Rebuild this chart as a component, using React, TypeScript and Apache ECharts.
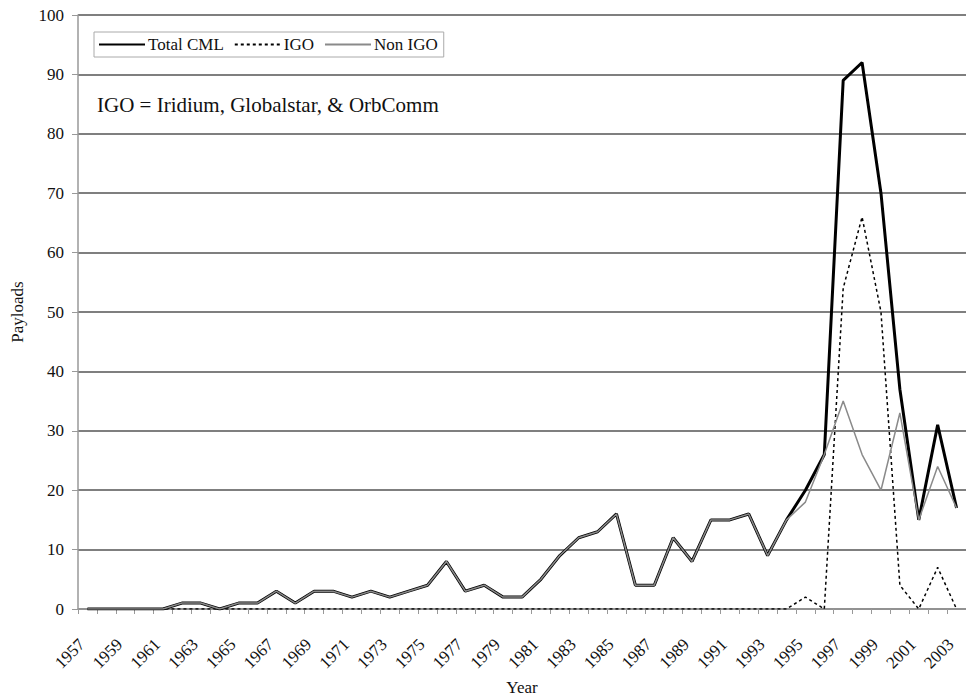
import React, { useEffect, useRef } from "react";
import * as echarts from "echarts";

const years: string[] = [];
for (let y = 1957; y <= 2003; y++) years.push(String(y));

const totalCML = [0,0,0,0,0,1,1,0,1,1,3,1,3,3,2,3,2,3,4,8,3,4,2,2,5,9,12,13,16,4,4,12,8,15,15,16,9,15,20,26,89,92,70,37,15,31,17];
const igo = [0,0,0,0,0,0,0,0,0,0,0,0,0,0,0,0,0,0,0,0,0,0,0,0,0,0,0,0,0,0,0,0,0,0,0,0,0,0,2,0,54,66,50,4,0,7,0];
const nonIGO = [0,0,0,0,0,1,1,0,1,1,3,1,3,3,2,3,2,3,4,8,3,4,2,2,5,9,12,13,16,4,4,12,8,15,15,16,9,15,18,26,35,26,20,33,15,24,17];

const FONT = "Liberation Serif";

export default function App() {
  const ref = useRef<HTMLDivElement>(null);
  useEffect(() => {
    if (!ref.current) return;
    const chart = echarts.init(ref.current, null, { renderer: "svg" });
    chart.setOption({
      animation: false,
      backgroundColor: "#fff",
      textStyle: { fontFamily: FONT },
      grid: {
        left: 78,
        right: 0,
        top: 15,
        bottom: 91,
        containLabel: false,
        outerBoundsMode: "none",
      },
      legend: {
        left: 94,
        top: 32,
        padding: [4, 6, 4, 4],
        itemGap: 10,
        itemWidth: 46,
        itemHeight: 14,
        borderColor: "#aaa",
        borderWidth: 1,
        backgroundColor: "#fff",
        itemStyle: { opacity: 0 },
        textStyle: { fontFamily: FONT, fontSize: 17, color: "#111", padding: [0, 0, 0, -2] },
        data: ["Total CML", "IGO", "Non IGO"],
      },
      xAxis: {
        type: "category",
        data: years,
        boundaryGap: true,
        name: "Year",
        nameLocation: "middle",
        nameGap: 68,
        nameTextStyle: { fontFamily: FONT, fontSize: 17, color: "#111" },
        axisLine: { lineStyle: { color: "#999", width: 1.5 } },
        axisTick: { show: true, interval: 0, length: 5, lineStyle: { color: "#999" } },
        axisLabel: {
          interval: 1,
          rotate: 45,
          margin: 27,
          padding: [0, 8, 16, 0],
          fontFamily: FONT,
          fontSize: 17,
          color: "#111",
        },
        splitLine: { show: false },
      },
      yAxis: {
        type: "value",
        min: 0,
        max: 100,
        interval: 10,
        name: "Payloads",
        nameLocation: "middle",
        nameGap: 52,
        nameRotate: 90,
        nameTextStyle: { fontFamily: FONT, fontSize: 17, color: "#111" },
        axisLine: { show: true, lineStyle: { color: "#999", width: 1.5 } },
        axisTick: { show: true, length: 6, lineStyle: { color: "#999" } },
        axisLabel: { margin: 14, fontFamily: FONT, fontSize: 17, color: "#111" },
        splitLine: { show: true, lineStyle: { color: "#555", width: 1.5 } },
      },
      graphic: [
        {
          type: "text",
          left: 97,
          top: 94,
          style: {
            text: "IGO = Iridium, Globalstar, & OrbComm",
            fontFamily: FONT,
            fontSize: 21,
            fill: "#111",
          },
        },
      ],
      series: [
        {
          name: "Total CML",
          type: "line",
          data: totalCML,
          symbol: "none",
          lineStyle: { color: "#000", width: 3 },
          itemStyle: { color: "#000" },
          z: 3,
        },
        {
          name: "IGO",
          type: "line",
          data: igo,
          symbol: "none",
          lineStyle: { color: "#000", width: 1.5, type: [3, 3] },
          itemStyle: { color: "#000" },
          z: 4,
        },
        {
          name: "Non IGO",
          type: "line",
          data: nonIGO,
          symbol: "none",
          lineStyle: { color: "#8a8a8a", width: 1.5 },
          itemStyle: { color: "#8a8a8a" },
          z: 5,
        },
      ],
    });
    return () => chart.dispose();
  }, []);
  return (
    <div
      ref={ref}
      style={{ position: "absolute", left: 0, top: 0, width: 966, height: 700 }}
    />
  );
}
